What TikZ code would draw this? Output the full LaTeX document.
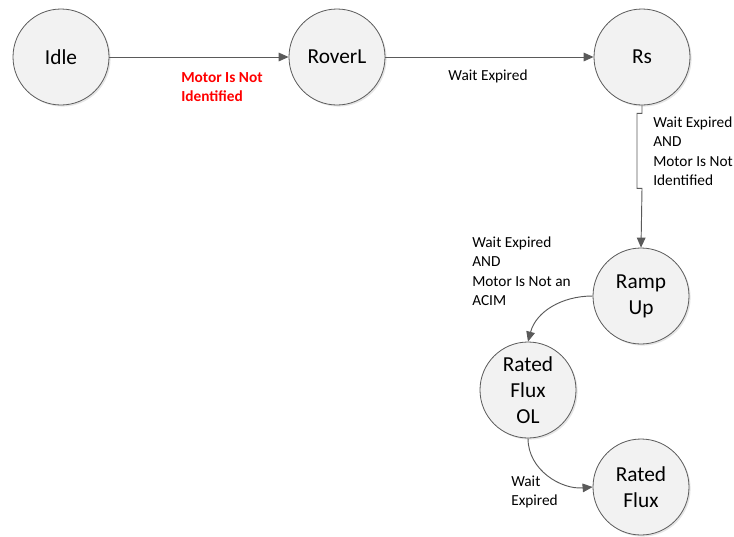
\documentclass[tikz,border=0pt]{standalone}
\usepackage{fontspec}
\setmainfont{Carlito}
\usepackage{tikz}
\usetikzlibrary{arrows.meta,positioning,shadows}
\definecolor{stfill}{HTML}{F2F2F2}
\definecolor{stdraw}{HTML}{5A5A5A}
\definecolor{wire}{HTML}{5A5A5A}
\definecolor{alert}{HTML}{FF0000}
\tikzset{
  >={Triangle[length=7.5pt,width=6.5pt]},
  flow/.style={->,draw=wire,line width=0.7pt},
  statenode/.style={circle,draw=stdraw,fill=stfill,line width=0.6pt,align=center,
    minimum size=72pt,inner sep=0pt,font=\fontsize{16}{19.5}\selectfont,
    drop shadow={shadow xshift=1.2pt,shadow yshift=-1.2pt,fill=black!20}},
  cond/.style={inner sep=0pt,align=left,font=\fontsize{11.5}{14.6}\selectfont},
  alertcond/.style={cond,text=alert,font=\fontsize{11.5}{14.6}\selectfont\bfseries}
}
\begin{document}
\begin{tikzpicture}[x=0.75pt,y=-0.75pt]
  \useasboundingbox (0,0) rectangle (734,536);
  \node[statenode] (idle) at (61,57) {Idle};
  \node[statenode] (roverl) at (337,57) {RoverL};
  \node[statenode] (rs) at (642,57) {Rs};
  \node[statenode] (rampup) at (641,296) {Ramp\\Up};
  \node[statenode] (fluxol) at (528,390) {Rated\\Flux\\OL};
  \node[statenode] (flux) at (641,487) {Rated\\Flux};
  \draw[flow] (idle)--(roverl); \draw[flow] (roverl)--(rs);
  \draw[flow] (rs.south)--++(0,8)--++(-5,0)--++(0,75)--++(5,0)--(rampup.north);
  \draw[flow] (rampup.west) to[out=180,in=75] (fluxol.north);
  \draw[flow] (fluxol.south) to[out=-90,in=185] (flux.west);
  \node[alertcond,anchor=west] (lblid) at (181,87) {Motor Is Not\\Identified};
  \node[cond] (lblwait) at (488,76) {Wait Expired};
  \node[cond,anchor=west] (lblrs) at (653,151) {Wait Expired\\AND\\Motor Is Not\\Identified};
  \node[cond,anchor=west] (lblacim) at (472,271) {Wait Expired\\AND\\Motor Is Not an\\ACIM};
  \node[cond,anchor=west] (lblol) at (511,492) {Wait\\Expired};
\end{tikzpicture}
\end{document}
